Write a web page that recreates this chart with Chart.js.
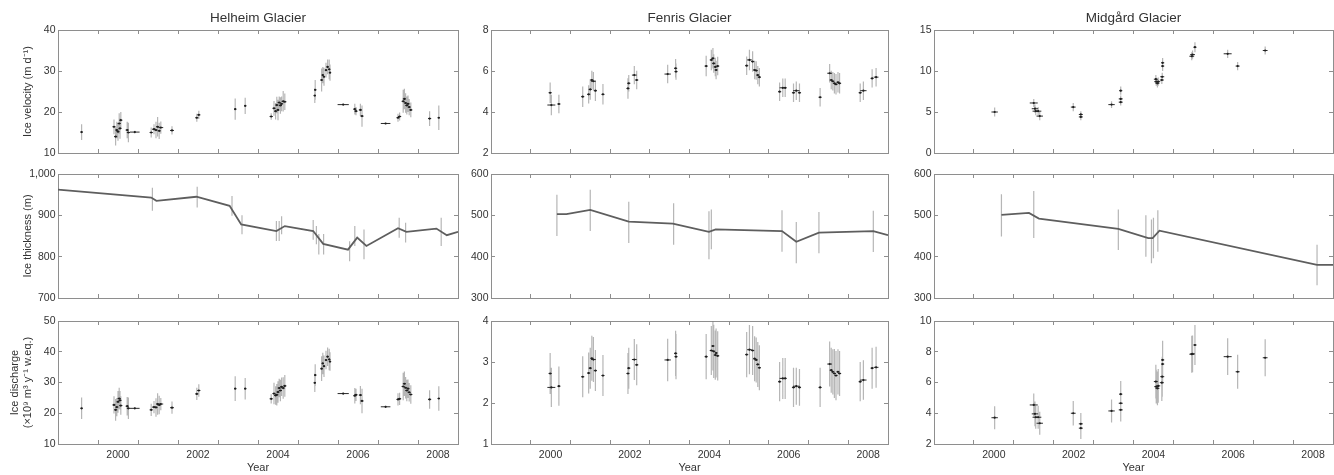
<!DOCTYPE html>
<html>
<head>
<meta charset="utf-8">
<script src="https://cdn.jsdelivr.net/npm/chart.js@4.4.1/dist/chart.umd.min.js"></script>
<style>
  html, body { margin:0; padding:0; background:#fff; overflow:hidden; }
  #wrap { position:relative; width:1334px; height:475px; background:#fff; }
  #wrap canvas { position:absolute; }
</style>
</head>
<body>
<div id="wrap"></div>
<script>
// ---------------- axis values ----------------
const YEAR_TICKS = [2000, 2001, 2002, 2003, 2004, 2005, 2006, 2007, 2008];
const X_MIN = 1999, X_MAX = 2009;
const GLACIERS = ['Helheim Glacier', 'Fenris Glacier', 'Midgård Glacier'];
const Y_TITLES = ['Ice velocity (m d⁻¹)', 'Ice thickness (m)', ['Ice discharge', '(×10⁹ m³ y⁻¹ w.eq.)']];

const HEL_VEL_TICKS = [10, 20, 30, 40];
const FEN_VEL_TICKS = [2, 4, 6, 8];
const MID_VEL_TICKS = [0, 5, 10, 15];
const HEL_THK_TICKS = [700, 800, 900, 1000];
const FEN_THK_TICKS = [300, 400, 500, 600];
const MID_THK_TICKS = [300, 400, 500, 600];
const HEL_DIS_TICKS = [10, 20, 30, 40, 50];
const FEN_DIS_TICKS = [1, 2, 3, 4];
const MID_DIS_TICKS = [2, 4, 6, 8, 10];

// ---------------- Helheim observations ----------------
const helT = [1999.59, 2000.40, 2000.44, 2000.47, 2000.50, 2000.53, 2000.55, 2000.57, 2000.73, 2000.76, 2000.92,
  2001.33, 2001.40, 2001.45, 2001.49, 2001.53, 2001.57, 2001.85, 2002.47, 2002.52, 2003.43, 2003.68,
  2004.33, 2004.40, 2004.44, 2004.47, 2004.50, 2004.53, 2004.56, 2004.59, 2004.63, 2004.67,
  2005.42, 2005.43, 2005.59, 2005.62, 2005.65, 2005.70, 2005.74, 2005.78, 2005.80,
  2006.13, 2006.42, 2006.45, 2006.56, 2006.60, 2007.19, 2007.50, 2007.54,
  2007.63, 2007.66, 2007.69, 2007.72, 2007.75, 2007.78, 2007.82, 2008.29, 2008.52];
const helSpan = [0.03, 0.04, 0.04, 0.04, 0.04, 0.04, 0.04, 0.04, 0.04, 0.04, 0.12,
  0.04, 0.05, 0.04, 0.04, 0.04, 0.06, 0.05, 0.04, 0.04, 0.03, 0.03,
  0.04, 0.04, 0.04, 0.04, 0.04, 0.04, 0.04, 0.04, 0.04, 0.04,
  0.03, 0.03, 0.03, 0.03, 0.03, 0.03, 0.03, 0.03, 0.03,
  0.14, 0.04, 0.04, 0.04, 0.04, 0.12, 0.04, 0.04,
  0.04, 0.04, 0.04, 0.04, 0.04, 0.04, 0.04, 0.04, 0.03];
const helVel = [15.1, 16.4, 14.0, 15.6, 15.2, 17.2, 16.0, 18.0, 15.6, 15.0, 15.1,
  15.0, 15.8, 15.6, 16.4, 15.4, 16.2, 15.5, 18.6, 19.3, 20.7, 21.5,
  18.9, 20.9, 20.2, 21.7, 20.5, 22.3, 21.6, 22.0, 22.6, 22.5,
  24.0, 25.4, 27.8, 29.0, 28.6, 30.2, 31.0, 30.4, 29.6,
  21.8, 20.7, 20.2, 20.5, 19.0, 17.2, 18.6, 18.9,
  22.6, 23.2, 22.2, 21.6, 22.0, 21.2, 20.5, 18.4, 18.6];
const helVelErr = [1.9, 1.8, 2.2, 2.0, 2.2, 2.5, 2.5, 2.0, 2.0, 2.4, 0.3,
  1.2, 1.2, 2.0, 2.4, 2.0, 1.5, 1.0, 1.0, 1.0, 2.6, 2.0,
  0.8, 1.8, 2.0, 2.0, 2.5, 1.5, 2.0, 1.8, 2.5, 2.0,
  1.8, 2.4, 2.8, 2.0, 2.2, 1.8, 1.8, 2.4, 2.0,
  0.2, 1.3, 1.0, 1.5, 2.6, 0.2, 1.0, 1.0,
  2.8, 2.5, 2.4, 2.2, 2.0, 2.0, 1.8, 1.8, 3.0];
const helDis = [21.6, 22.7, 21.1, 22.0, 23.7, 24.8, 24.2, 22.5, 22.3, 21.6, 21.6,
  21.1, 22.0, 21.9, 23.0, 22.7, 23.0, 21.8, 26.3, 27.4, 28.0, 28.0,
  24.7, 26.4, 25.8, 26.0, 26.9, 28.2, 27.4, 28.6, 28.2, 28.9,
  29.9, 32.4, 34.5, 36.2, 35.3, 37.3, 38.4, 37.5, 36.8,
  26.4, 25.7, 26.0, 25.9, 24.0, 22.1, 24.5, 24.7,
  28.7, 29.6, 28.3, 27.4, 28.0, 26.8, 26.1, 24.5, 24.8];
const helDisErr = [3.5, 2.8, 3.5, 3.0, 3.5, 3.5, 3.0, 3.0, 3.0, 3.5, 0.3,
  2.0, 2.0, 3.0, 3.5, 3.0, 2.0, 2.0, 2.0, 2.0, 4.0, 3.5,
  1.5, 3.5, 3.0, 3.5, 3.5, 3.0, 3.5, 3.0, 3.5, 3.5,
  3.0, 3.5, 4.0, 3.5, 3.5, 3.0, 3.0, 3.5, 3.0,
  0.3, 2.5, 2.0, 3.0, 4.0, 0.3, 2.0, 2.0,
  4.5, 4.0, 3.5, 3.5, 3.0, 3.0, 3.0, 3.0, 4.0];
const helThkT = [1999.00, 2001.33, 2001.46, 2002.46, 2003.29, 2003.58, 2004.46, 2004.67, 2005.38, 2005.63,
  2006.25, 2006.48, 2006.71, 2007.50, 2007.71, 2008.46, 2008.72, 2009.00];
const helThk = [962, 943, 935, 945, 923, 878, 862, 874, 862, 831, 817, 846, 826, 869, 860, 868, 852, 860];
const helThkErrT = [2001.36, 2002.48, 2003.35, 2003.60, 2004.46, 2004.53, 2004.59, 2005.38, 2005.46, 2005.52, 2005.64,
  2006.29, 2006.42, 2006.65, 2007.53, 2007.69, 2008.58];
const helThkErrV = [939, 944, 923, 877, 862, 862, 876, 865, 852, 830, 830, 813, 850, 830, 870, 858, 860];
const helThkErr = [28, 25, 24, 23, 24, 24, 22, 24, 22, 25, 25, 24, 24, 36, 24, 24, 34];

// ---------------- Fenris observations ----------------
const fenT = [2000.49, 2000.52, 2000.71, 2001.31, 2001.46, 2001.50, 2001.54, 2001.58, 2001.63, 2001.82,
  2002.45, 2002.47, 2002.61, 2002.67, 2003.45, 2003.65, 2003.66,
  2004.42, 2004.55, 2004.59, 2004.61, 2004.65, 2004.67, 2004.71,
  2005.44, 2005.51, 2005.59, 2005.64, 2005.68, 2005.72, 2005.76,
  2006.27, 2006.35, 2006.41, 2006.62, 2006.69, 2006.77, 2007.29,
  2007.53, 2007.57, 2007.61, 2007.65, 2007.69, 2007.74, 2007.78, 2008.30, 2008.38, 2008.60, 2008.70];
const fenSpan = [0.04, 0.10, 0.04, 0.04, 0.04, 0.04, 0.04, 0.06, 0.04, 0.04,
  0.04, 0.04, 0.06, 0.04, 0.08, 0.04, 0.04,
  0.04, 0.04, 0.04, 0.04, 0.04, 0.04, 0.04,
  0.04, 0.06, 0.04, 0.04, 0.04, 0.04, 0.04,
  0.04, 0.08, 0.04, 0.04, 0.08, 0.04, 0.04,
  0.06, 0.04, 0.04, 0.04, 0.04, 0.04, 0.04, 0.04, 0.08, 0.04, 0.06];
const fenVel = [4.94, 4.34, 4.39, 4.75, 4.86, 5.10, 5.56, 5.50, 5.04, 4.86,
  5.15, 5.40, 5.80, 5.56, 5.85, 6.13, 5.97,
  6.24, 6.54, 6.62, 6.37, 6.20, 6.05, 6.24,
  6.26, 6.54, 6.46, 6.05, 6.02, 5.80, 5.70,
  4.99, 5.18, 5.18, 4.94, 5.04, 4.94, 4.72,
  5.89, 5.56, 5.50, 5.40, 5.35, 5.45, 5.40, 4.94, 5.04, 5.64, 5.70];
const fenVelErr = [0.5, 0.5, 0.45, 0.5, 0.45, 0.5, 0.45, 0.45, 0.5, 0.5,
  0.5, 0.4, 0.45, 0.45, 0.45, 0.45, 0.4,
  0.5, 0.5, 0.5, 0.45, 0.45, 0.45, 0.45,
  0.45, 0.5, 0.5, 0.45, 0.45, 0.45, 0.45,
  0.45, 0.45, 0.45, 0.45, 0.45, 0.45, 0.45,
  0.45, 0.45, 0.45, 0.5, 0.5, 0.5, 0.5, 0.45, 0.45, 0.45, 0.45];
const fenDis = [2.72, 2.38, 2.41, 2.64, 2.73, 2.85, 3.09, 3.06, 2.79, 2.67,
  2.72, 2.85, 3.06, 2.93, 3.05, 3.21, 3.13,
  3.13, 3.28, 3.39, 3.26, 3.17, 3.22, 3.15,
  3.18, 3.30, 3.28, 3.08, 3.05, 2.94, 2.86,
  2.52, 2.60, 2.60, 2.38, 2.41, 2.38, 2.38,
  2.95, 2.80, 2.76, 2.72, 2.67, 2.76, 2.72, 2.52, 2.56, 2.85, 2.87];
const fenDisErr = [0.5, 0.48, 0.48, 0.5, 0.5, 0.5, 0.55, 0.55, 0.5, 0.5,
  0.5, 0.5, 0.5, 0.5, 0.52, 0.55, 0.55,
  0.55, 0.6, 0.6, 0.65, 0.6, 0.6, 0.6,
  0.55, 0.6, 0.6, 0.55, 0.55, 0.55, 0.55,
  0.48, 0.5, 0.5, 0.48, 0.45, 0.45, 0.48,
  0.55, 0.55, 0.55, 0.6, 0.6, 0.55, 0.55, 0.48, 0.48, 0.5, 0.5];
const fenThkT = [2000.66, 2000.90, 2001.50, 2002.47, 2003.58, 2004.49, 2004.66, 2006.33, 2006.69, 2007.26, 2008.63, 2009.00];
const fenThk = [503, 503, 513, 485, 480, 460, 466, 462, 436, 458, 462, 452];
const fenThkErrT = [2000.66, 2001.50, 2002.47, 2003.60, 2004.49, 2004.55, 2006.33, 2006.69, 2007.26, 2008.63];
const fenThkErrV = [500, 512, 483, 479, 452, 466, 462, 434, 458, 461];
const fenThkErr = [50, 50, 50, 50, 58, 48, 50, 50, 50, 50];

// ---------------- Midgård observations ----------------
const midT = [2000.52, 2001.50, 2001.53, 2001.55, 2001.61, 2001.65, 2002.49, 2002.68, 2002.68,
  2003.45, 2003.68, 2003.68, 2003.68, 2004.56, 2004.57, 2004.60, 2004.62,
  2004.71, 2004.72, 2004.73, 2004.73, 2005.46, 2005.48, 2005.54, 2006.36, 2006.61, 2007.30];
const midSpan = [0.08, 0.10, 0.08, 0.08, 0.08, 0.08, 0.06, 0.05, 0.05,
  0.08, 0.05, 0.05, 0.04, 0.05, 0.05, 0.05, 0.05,
  0.05, 0.05, 0.04, 0.04, 0.06, 0.06, 0.04, 0.10, 0.05, 0.06];
const midVel = [5.0, 6.1, 5.4, 5.1, 5.1, 4.5, 5.6, 4.7, 4.4,
  5.9, 6.2, 6.6, 7.6, 9.0, 8.7, 8.5, 8.7,
  8.9, 9.3, 11.0, 10.6, 11.8, 12.0, 12.9, 12.1, 10.6, 12.5];
const midVelErr = [0.55, 0.5, 0.5, 0.5, 0.5, 0.5, 0.5, 0.4, 0.4,
  0.4, 0.4, 0.4, 0.5, 0.5, 0.5, 0.5, 0.5,
  0.5, 0.5, 0.6, 0.6, 0.5, 0.5, 0.6, 0.5, 0.5, 0.5];
const midDis = [3.71, 4.54, 3.96, 3.74, 3.74, 3.35, 4.0, 3.31, 3.03,
  4.15, 4.22, 4.65, 5.24, 6.06, 5.73, 5.62, 5.78,
  5.99, 6.38, 7.2, 7.47, 7.84, 7.86, 8.44, 7.68, 6.7, 7.61];
const midDisErr = [0.75, 0.75, 0.8, 0.75, 0.75, 0.75, 0.8, 0.7, 0.7,
  0.75, 0.75, 0.75, 0.85, 1.1, 1.1, 1.1, 1.1,
  1.2, 1.3, 1.3, 1.25, 1.2, 1.2, 1.3, 1.2, 1.1, 1.2];
const midThkT = [2000.69, 2001.38, 2001.63, 2003.62, 2004.37, 2004.48, 2004.65, 2008.60, 2009.00];
const midThk = [501, 506, 492, 467, 445, 445, 463, 380, 380];
const midThkErrT = [2000.69, 2001.50, 2003.62, 2004.31, 2004.45, 2004.50, 2004.61, 2008.60];
const midThkErrV = [500, 502, 465, 450, 437, 445, 462, 380];
const midThkErr = [51, 57, 49, 50, 53, 49, 50, 49];

// ---------------- layout & style ----------------
const COL_L = [58, 491, 934], COL_R = [458, 888, 1333];
const ROW_T = [30, 174, 321], ROW_B = [153, 298, 444];
const FONT = '"Liberation Sans", Arial, Helvetica, sans-serif';
const TXT = '#333333';
const FRAME = '#8e8e8e';
const ERR_COL = 'rgba(110,110,110,0.5)';
const SPAN_COL = '#2a2a2a';
const PT_COL = '#1e1e1e';
const LINE_COL = '#5e5e5e';

function vBars(t, v, e) {
  const out = [];
  for (let i = 0; i < t.length; i++) {
    out.push({x: t[i], y: v[i] - e[i]}, {x: t[i], y: v[i] + e[i]}, {x: t[i], y: null});
  }
  return out;
}
function hBars(t, v, w) {
  const out = [];
  for (let i = 0; i < t.length; i++) {
    out.push({x: t[i] - w[i], y: v[i]}, {x: t[i] + w[i], y: v[i]}, {x: t[i], y: null});
  }
  return out;
}
function pts(t, v) { return t.map((x, i) => ({x: x, y: v[i]})); }

function obsDatasets(t, v, e, w) {
  return [
    {data: pts(t, v), showLine: false, pointRadius: 1.1, pointBackgroundColor: PT_COL, pointBorderWidth: 0, order: 0},
    {data: hBars(t, v, w), showLine: true, spanGaps: false, borderColor: SPAN_COL, borderWidth: 1, pointRadius: 0, order: 1},
    {data: vBars(t, v, e), showLine: true, spanGaps: false, borderColor: ERR_COL, borderWidth: 1.2, pointRadius: 0, order: 2}
  ];
}
function thkDatasets(lt, lv, et, ev, ee) {
  return [
    {data: pts(lt, lv), showLine: true, borderColor: LINE_COL, borderWidth: 1.8, pointRadius: 0, order: 1},
    {data: vBars(et, ev, ee), showLine: true, spanGaps: false, borderColor: ERR_COL, borderWidth: 1.2, pointRadius: 0, order: 2}
  ];
}

const PANELS = [
  {row: 0, col: 0, ticks: HEL_VEL_TICKS, ds: obsDatasets(helT, helVel, helVelErr, helSpan)},
  {row: 0, col: 1, ticks: FEN_VEL_TICKS, ds: obsDatasets(fenT, fenVel, fenVelErr, fenSpan)},
  {row: 0, col: 2, ticks: MID_VEL_TICKS, ds: obsDatasets(midT, midVel, midVelErr, midSpan)},
  {row: 1, col: 0, ticks: HEL_THK_TICKS, ds: thkDatasets(helThkT, helThk, helThkErrT, helThkErrV, helThkErr)},
  {row: 1, col: 1, ticks: FEN_THK_TICKS, ds: thkDatasets(fenThkT, fenThk, fenThkErrT, fenThkErrV, fenThkErr)},
  {row: 1, col: 2, ticks: MID_THK_TICKS, ds: thkDatasets(midThkT, midThk, midThkErrT, midThkErrV, midThkErr)},
  {row: 2, col: 0, ticks: HEL_DIS_TICKS, ds: obsDatasets(helT, helDis, helDisErr, helSpan)},
  {row: 2, col: 1, ticks: FEN_DIS_TICKS, ds: obsDatasets(fenT, fenDis, fenDisErr, fenSpan)},
  {row: 2, col: 2, ticks: MID_DIS_TICKS, ds: obsDatasets(midT, midDis, midDisErr, midSpan)}
];

const LEFT_W = 58, TOP_H = 30;
const wrap = document.getElementById('wrap');

PANELS.forEach(p => {
  const pw = COL_R[p.col] - COL_L[p.col];
  const ph = ROW_B[p.row] - ROW_T[p.row];
  const bottomH = p.row === 2 ? 31 : 4;
  const cv = document.createElement('canvas');
  const W = LEFT_W + pw + 1, H = TOP_H + ph + bottomH;
  cv.width = W; cv.height = H;
  cv.style.width = W + 'px'; cv.style.height = H + 'px';
  cv.style.left = (COL_L[p.col] - LEFT_W) + 'px';
  cv.style.top = (ROW_T[p.row] - TOP_H) + 'px';
  wrap.appendChild(cv);

  const yMin = p.ticks[0], yMax = p.ticks[p.ticks.length - 1];
  const tickFont = {family: FONT, size: 10.5};
  const gridOpt = {drawOnChartArea: false, drawTicks: true, tickLength: -4, color: FRAME, lineWidth: 1};
  const borderOpt = {display: true, color: FRAME, width: 1};
  const yTitle = p.col === 0 ? Y_TITLES[p.row] : null;
  const yTitlePad = Array.isArray(yTitle) ? 8.4 : 20.9;

  new Chart(cv, {
    type: 'scatter',
    data: {datasets: p.ds},
    options: {
      responsive: false, animation: false, devicePixelRatio: 1,
      layout: {autoPadding: false, padding: {top: p.row === 0 ? 0 : TOP_H, right: 1, bottom: 0, left: 0}},
      plugins: {
        legend: {display: false},
        tooltip: {enabled: false},
        title: p.row === 0 ? {display: true, text: GLACIERS[p.col], fullSize: false, color: TXT,
          font: {family: FONT, size: 13.5, weight: 'normal'}, padding: {top: 10, bottom: 3.8}} : {display: false}
      },
      scales: {
        x: {
          type: 'linear', position: 'bottom', min: X_MIN, max: X_MAX,
          afterBuildTicks: s => { s.ticks = YEAR_TICKS.map(v => ({value: v})); },
          ticks: {display: p.row === 2, autoSkip: false, maxRotation: 0, minRotation: 0,
            labelOffset: pw / 20, padding: 8.7, font: tickFont, color: TXT,
            callback: v => (v % 2 === 0 ? String(v) : '')},
          grid: gridOpt, border: borderOpt,
          title: p.row === 2 ? {display: true, text: 'Year', color: TXT, font: {family: FONT, size: 11}, padding: {top: 0, bottom: 0}} : {display: false},
          afterFit: s => { s.height = bottomH; s.paddingLeft = 0; s.paddingRight = 0; }
        },
        xTop: {
          type: 'linear', position: 'top', min: X_MIN, max: X_MAX,
          afterBuildTicks: s => { s.ticks = YEAR_TICKS.map(v => ({value: v})); },
          ticks: {display: false}, grid: gridOpt, border: borderOpt,
          afterFit: s => { s.height = 0; s.paddingLeft = 0; s.paddingRight = 0; }
        },
        y: {
          type: 'linear', position: 'left', min: yMin, max: yMax,
          afterBuildTicks: s => { s.ticks = p.ticks.map(v => ({value: v})); },
          ticks: {padding: 6.5, font: tickFont, color: TXT, callback: v => Number(v).toLocaleString('en-US')},
          grid: gridOpt, border: borderOpt,
          title: yTitle ? {display: true, text: yTitle, color: TXT, font: {family: FONT, size: 11}, padding: {top: yTitlePad, bottom: 0}} : {display: false},
          afterFit: s => { s.width = LEFT_W; s.paddingTop = 0; s.paddingBottom = 0; }
        },
        yRight: {
          type: 'linear', position: 'right', min: yMin, max: yMax,
          afterBuildTicks: s => { s.ticks = p.ticks.map(v => ({value: v})); },
          ticks: {display: false}, grid: gridOpt, border: borderOpt,
          afterFit: s => { s.width = 0; s.paddingTop = 0; s.paddingBottom = 0; }
        }
      }
    }
  });
});
</script>
</body>
</html>
